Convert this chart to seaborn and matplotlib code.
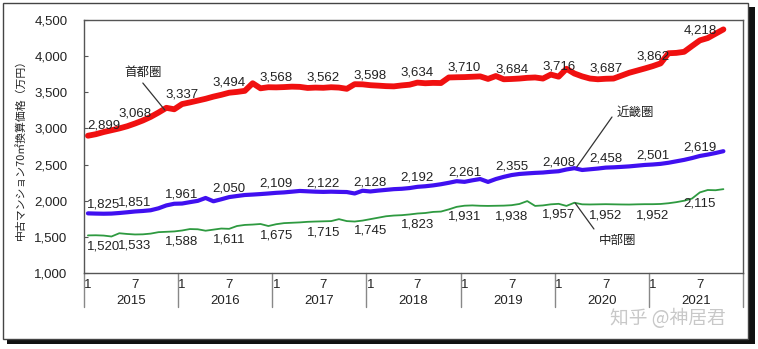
import numpy as np
import pandas as pd
import matplotlib
matplotlib.use("Agg")
import matplotlib.pyplot as plt
from matplotlib.patches import Rectangle
import seaborn as sns

# ---------------- data (monthly, Jan 2015 - Oct 2021) ----------------
years = ["2015", "2016", "2017", "2018", "2019", "2020", "2021"]
month_ticks = ["1", "7"]

shuto = [
    2899, 2920, 2950, 2975, 3000, 3030, 3068, 3110, 3160, 3220, 3285, 3265,
    3337, 3360, 3385, 3410, 3440, 3465, 3494, 3505, 3520, 3625, 3555, 3570,
    3568, 3572, 3578, 3575, 3560, 3565, 3562, 3570, 3565, 3548, 3612, 3610,
    3598, 3592, 3585, 3582, 3595, 3605, 3634, 3625, 3630, 3628, 3705, 3708,
    3710, 3715, 3720, 3685, 3725, 3680, 3684, 3690, 3700, 3705, 3690, 3745,
    3716, 3825, 3760, 3720, 3690, 3680, 3687, 3690, 3730, 3770, 3800, 3830,
    3862, 3900, 4040, 4045, 4060, 4140, 4218, 4250, 4310, 4370,
]
kinki = [
    1825, 1822, 1820, 1822, 1830, 1840, 1851, 1858, 1868, 1895, 1935, 1958,
    1961, 1980, 1998, 2038, 1992, 2020, 2050, 2065, 2079, 2085, 2092, 2100,
    2109, 2115, 2125, 2135, 2130, 2125, 2122, 2125, 2122, 2120, 2100, 2138,
    2128, 2140, 2150, 2160, 2165, 2175, 2192, 2200, 2212, 2228, 2248, 2270,
    2261, 2282, 2300, 2260, 2300, 2330, 2355, 2370, 2378, 2385, 2390, 2400,
    2408, 2432, 2450, 2425, 2435, 2445, 2458, 2462, 2468, 2475, 2485, 2495,
    2501, 2510, 2525, 2545, 2565, 2590, 2619, 2638, 2660, 2685,
]
chubu = [
    1520, 1522, 1518, 1505, 1550, 1540, 1533, 1535, 1545, 1565, 1570, 1575,
    1588, 1608, 1605, 1585, 1600, 1615, 1611, 1650, 1665, 1670, 1678, 1650,
    1675, 1690, 1695, 1700, 1708, 1712, 1715, 1718, 1745, 1718, 1712, 1725,
    1745, 1765, 1785, 1795, 1800, 1810, 1823, 1830, 1845, 1850, 1880, 1915,
    1931, 1935, 1930, 1928, 1930, 1932, 1938, 1955, 1995, 1928, 1935, 1950,
    1957, 1928, 1972, 1950, 1948, 1950, 1952, 1950, 1948, 1947, 1950, 1952,
    1952, 1955, 1965, 1980, 2000, 2030, 2115, 2148, 2145, 2160,
]

n = len(shuto)
month_idx = np.arange(n)
df = pd.DataFrame({
    "m": np.concatenate([month_idx] * 3),
    "v": shuto + kinki + chubu,
    "s": ["首都圏"] * n + ["近畿圏"] * n + ["中部圏"] * n,
})

# ---------------- style ----------------
sns.set_theme(style="white")
FAM = ["Liberation Sans", "Noto Sans CJK JP", "DejaVu Sans"]
plt.rcParams["font.family"] = FAM

fig = plt.figure(figsize=(7.58, 3.49), dpi=100)
ax = fig.add_axes([84 / 758, 1 - 273 / 349, (743 - 84) / 758, (273 - 20) / 349])

palette = {"首都圏": "#f01010", "近畿圏": "#4010f0", "中部圏": "#2e9a40"}
widths = {"首都圏": 4.2, "近畿圏": 3.0, "中部圏": 1.3}
for name in ["中部圏", "近畿圏", "首都圏"]:
    sub = df[df["s"] == name]
    sns.lineplot(data=sub, x="m", y="v", color=palette[name], lw=widths[name],
                 ax=ax, legend=False, solid_capstyle="round", solid_joinstyle="round")

ax.set_xlim(-0.5, 83.5)
ax.set_ylim(1000, 4500)
ax.set_yticks(np.arange(1000, 4501, 500))
ax.set_yticklabels([f"{v:,}" for v in range(1000, 4501, 500)], fontsize=9.5,
                   color="#222222", family=FAM)
ax.tick_params(axis="y", direction="in", length=3, width=0.8, color="#555555", pad=12, left=True)

# x tick labels: 1 and 7 for each year
xt, xl = [], []
for k in range(len(years)):
    for mt in month_ticks:
        xt.append(12 * k + int(mt) - 1)
        xl.append(mt)
ax.set_xticks(xt)
ax.set_xticklabels(xl, fontsize=9.5, color="#222222", family=FAM)
ax.tick_params(axis="x", length=0, pad=4)
ax.set_xlabel("")
ax.set_ylabel("中古マンション70㎡換算価格（万円）", fontsize=7.8, color="#222222",
              labelpad=6, family=["Noto Sans CJK JP", "DejaVu Sans"])
for sp in ax.spines.values():
    sp.set_color("#555555")
    sp.set_linewidth(1.0)

# year labels and separators
trans = ax.get_xaxis_transform()
for k, yr in enumerate(years):
    ax.text(12 * k + 5.5, -0.11, yr, transform=trans, ha="center", va="center",
            fontsize=9.5, color="#222222", family=FAM)
for b in range(len(years) + 1):
    ax.plot([12 * b - 0.5] * 2, [0, -0.135], transform=trans, color="#888888",
            lw=1.0, clip_on=False)

# data labels (Jan and Jul of each year)
label_idx = list(range(0, n, 6))
for i in label_idx:
    xpos = i if i > 0 else 2.0
    ax.text(xpos, shuto[i] + 55, f"{shuto[i]:,}", ha="center", va="bottom",
            fontsize=9.5, color="#222222", family=FAM)
    ax.text(xpos, kinki[i] + 40, f"{kinki[i]:,}", ha="center", va="bottom",
            fontsize=9.5, color="#222222", family=FAM)
    ax.text(xpos, chubu[i] - 70, f"{chubu[i]:,}", ha="center", va="top",
            fontsize=9.5, color="#222222", family=FAM)

# series names with leader lines
JP = ["Noto Sans CJK JP", "DejaVu Sans"]
ax.text(7.0, 3778, "首都圏", ha="center", va="center", fontsize=9, color="#222222", family=JP)
ax.plot([7.0, 9.8], [3628, 3255], color="#333333", lw=0.9)
ax.text(69.8, 3227, "近畿圏", ha="center", va="center", fontsize=9, color="#222222", family=JP)
ax.plot([66.8, 62.3], [3158, 2466], color="#333333", lw=0.9)
ax.text(67.5, 1456, "中部圏", ha="center", va="center", fontsize=9, color="#222222", family=JP)
ax.plot([62.1, 64.5], [1968, 1609], color="#333333", lw=0.9)

# watermark
fig.text(668 / 758, 1 - 318 / 349, "知乎 @神居君", ha="center", va="center",
         fontsize=13.5, color="#c8c8c8", family=JP)

# outer frame with shadow
W, H = 758, 349
fig.patches.append(Rectangle((7 / W, 5 / H), 748 / W, 337 / H,
                             transform=fig.transFigure, facecolor="#111111",
                             edgecolor="none", zorder=-2))
fig.patches.append(Rectangle((3 / W, 1 - 339 / H), 745 / W, 336 / H,
                             transform=fig.transFigure, facecolor="white",
                             edgecolor="#444444", lw=1.0, zorder=-1))

fig.savefig("out.png", dpi=100)
